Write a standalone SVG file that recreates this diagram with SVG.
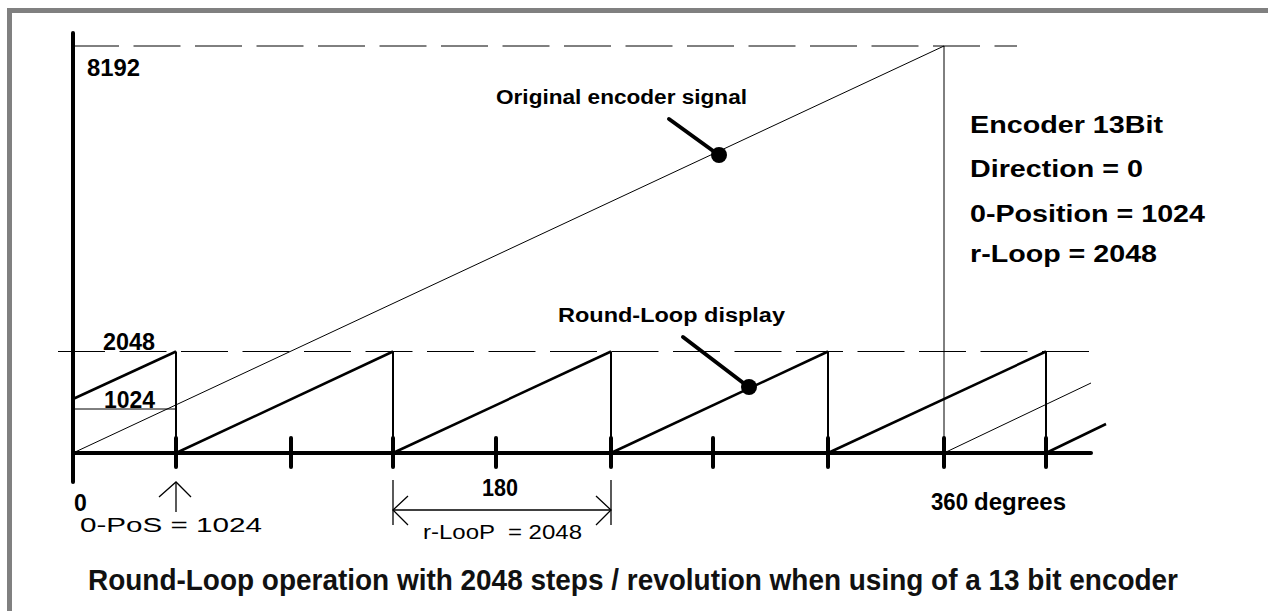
<svg xmlns="http://www.w3.org/2000/svg" width="1268" height="611" viewBox="0 0 1268 611">
<style>
.frame{fill:#808080}
.thin{stroke:#000;stroke-width:1;fill:none}
.dash{stroke:#000;stroke-width:1;fill:none;stroke-dasharray:47 14.5}
.axis{stroke:#000;stroke-width:4;fill:none;stroke-linecap:round}
.tick{stroke:#000;stroke-width:4;stroke-linecap:round}
.saw{stroke:#000;stroke-width:2.5;fill:none}
.drop{stroke:#000;stroke-width:2;fill:none}
.call{stroke:#000;stroke-width:4;stroke-linecap:round}
.dim{stroke:#000;stroke-width:1.3;fill:none}
.b{font-family:"Liberation Sans",Arial,sans-serif;font-weight:bold;fill:#000}
.r{font-family:"Liberation Sans",Arial,sans-serif;fill:#000}
.cap{font-family:"Liberation Sans",Arial,sans-serif;font-weight:bold;fill:#111}
</style>
<rect width="1268" height="611" fill="#fff"/>
<g id="frame">
<rect class="frame" x="7" y="8" width="5" height="603"/>
<rect class="frame" x="7" y="8" width="1261" height="5"/>
</g>
<g id="connectors">
<line class="dash" x1="72" y1="46" x2="1017" y2="46"/>
<line class="dash" x1="58" y1="351.5" x2="1089" y2="351.5"/>
<line class="thin" x1="73" y1="409" x2="176" y2="409"/>
<line class="thin" x1="73" y1="453" x2="944" y2="46"/>
<line class="thin" x1="944" y1="46" x2="944" y2="453"/>
<line class="thin" x1="944" y1="453" x2="1091" y2="383"/>
<line class="saw" x1="73" y1="399" x2="176" y2="351.5"/>
<line class="saw" x1="176" y1="453" x2="393" y2="351.5"/>
<line class="saw" x1="393" y1="453" x2="611" y2="351.5"/>
<line class="saw" x1="611" y1="453" x2="828" y2="351.5"/>
<line class="saw" x1="828" y1="453" x2="1046" y2="351.5"/>
<line class="saw" x1="1046" y1="453" x2="1106" y2="424"/>
<line class="drop" x1="176" y1="351.5" x2="176" y2="453"/>
<line class="drop" x1="393" y1="351.5" x2="393" y2="453"/>
<line class="drop" x1="611" y1="351.5" x2="611" y2="453"/>
<line class="drop" x1="828" y1="351.5" x2="828" y2="453"/>
<line class="drop" x1="1046" y1="351.5" x2="1046" y2="453"/>
</g>
<g id="axes">
<line class="axis" x1="73" y1="33" x2="73" y2="482"/>
<line class="axis" x1="73" y1="453" x2="1091" y2="453"/>
<g id="ticks">
<line class="tick" x1="176" y1="438" x2="176" y2="467"/>
<line class="tick" x1="291" y1="438" x2="291" y2="467"/>
<line class="tick" x1="393" y1="438" x2="393" y2="467"/>
<line class="tick" x1="496" y1="438" x2="496" y2="467"/>
<line class="tick" x1="611" y1="438" x2="611" y2="467"/>
<line class="tick" x1="713" y1="438" x2="713" y2="467"/>
<line class="tick" x1="828" y1="438" x2="828" y2="467"/>
<line class="tick" x1="944" y1="438" x2="944" y2="467"/>
<line class="tick" x1="1046" y1="438" x2="1046" y2="467"/>
</g>
</g>
<g id="callout-original">
<line class="call" x1="669" y1="119" x2="716" y2="153"/>
<circle cx="719" cy="155" r="8"/>
<text class="b" x="496" y="104" font-size="19.5" textLength="251" lengthAdjust="spacingAndGlyphs">Original encoder signal</text>
</g>
<g id="callout-roundloop">
<line class="call" x1="683" y1="337" x2="746" y2="385"/>
<circle cx="749" cy="387" r="8"/>
<text class="b" x="558" y="322" font-size="19.5" textLength="227" lengthAdjust="spacingAndGlyphs">Round-Loop display</text>
</g>
<g id="y-labels">
<text class="b" x="87" y="76" font-size="23" textLength="53" lengthAdjust="spacingAndGlyphs">8192</text>
<text class="b" x="103" y="350" font-size="23" textLength="52" lengthAdjust="spacingAndGlyphs">2048</text>
<text class="b" x="104" y="408" font-size="23" textLength="51" lengthAdjust="spacingAndGlyphs">1024</text>
<text class="b" x="74" y="511" font-size="23">0</text>
</g>
<g id="zero-pos">
<line class="dim" x1="176" y1="482" x2="176" y2="512"/>
<polyline class="dim" points="159,497 176,482 191,497"/>
<text class="r" x="80" y="532" font-size="20" textLength="182" lengthAdjust="spacingAndGlyphs">0-PoS = 1024</text>
</g>
<g id="r-loop-dim">
<line class="dim" x1="393" y1="480" x2="393" y2="525"/>
<line class="dim" x1="611" y1="480" x2="611" y2="525"/>
<line class="dim" x1="393" y1="510" x2="611" y2="510"/>
<polyline class="dim" points="408,496 393,510 408,525"/>
<polyline class="dim" points="596,496 611,510 596,525"/>
<text class="b" x="482" y="496" font-size="23" textLength="36" lengthAdjust="spacingAndGlyphs">180</text>
<text class="r" x="423" y="539" font-size="20" textLength="159" lengthAdjust="spacingAndGlyphs" xml:space="preserve">r-LooP  = 2048</text>
</g>
<g id="degrees">
<text class="b" x="931" y="510" font-size="23" textLength="37" lengthAdjust="spacingAndGlyphs">360</text>
<text class="b" x="974" y="510" font-size="23" textLength="92" lengthAdjust="spacingAndGlyphs">degrees</text>
</g>
<g id="settings">
<text class="b" x="970" y="133" font-size="23.5" textLength="193" lengthAdjust="spacingAndGlyphs">Encoder 13Bit</text>
<text class="b" x="970" y="177" font-size="23.5" textLength="173" lengthAdjust="spacingAndGlyphs">Direction = 0</text>
<text class="b" x="970" y="222" font-size="23.5" textLength="235" lengthAdjust="spacingAndGlyphs">0-Position = 1024</text>
<text class="b" x="970" y="262" font-size="23.5" textLength="187" lengthAdjust="spacingAndGlyphs">r-Loop = 2048</text>
</g>
<g id="caption">
<text class="cap" x="88" y="590" font-size="29" textLength="1090" lengthAdjust="spacingAndGlyphs">Round-Loop operation with 2048 steps / revolution when using of a 13 bit encoder</text>
</g>
</svg>
